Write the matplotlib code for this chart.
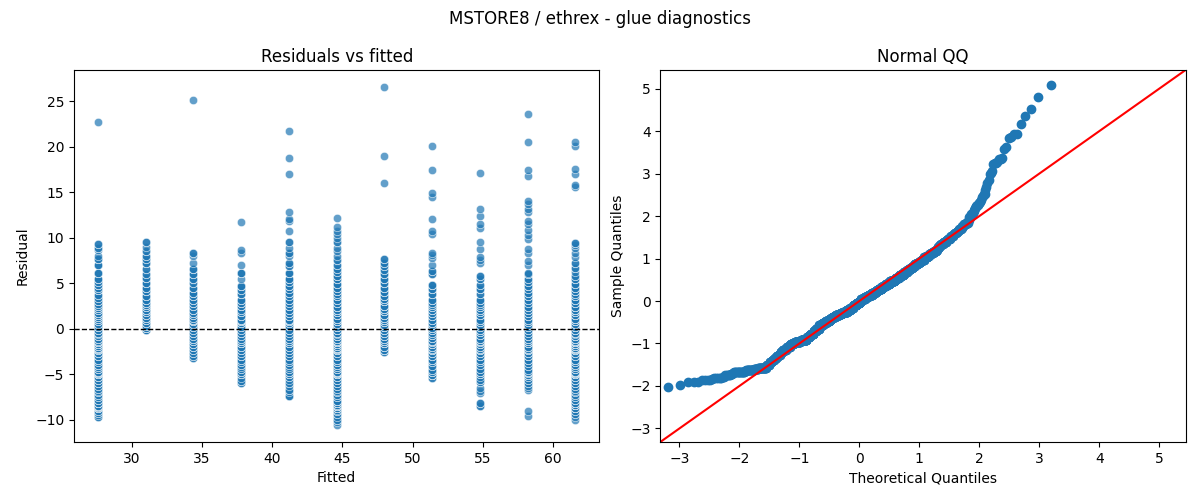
import numpy as np
import matplotlib
matplotlib.use("Agg")
import matplotlib.pyplot as plt
import seaborn as sns
from statistics import NormalDist

# Fitted levels (one column of residuals per level)
fitted_levels = [27.6, 31.0, 34.4, 37.8, 41.2, 44.6, 48.0, 51.4, 54.8, 58.2, 61.6]

# Residuals per fitted level as (value, count) pairs
res_27_6 = [(-9.7, 2), (-9.5, 1), (-9.3, 2), (-9.0, 2), (-8.7, 4), (-8.6, 2), (-8.5, 6), (-8.2, 6),
            (-7.8, 3), (-7.5, 2), (-7.3, 2), (-7.0, 2), (-6.8, 1), (-6.6, 2), (-6.3, 2), (-6.0, 3),
            (-5.6, 3), (-5.3, 3), (-5.0, 5), (-4.9, 2), (-4.8, 5), (-4.4, 3), (-4.2, 2), (-4.0, 3),
            (-3.7, 2), (-3.4, 3), (-3.0, 3), (-2.7, 3), (-2.4, 3), (-2.2, 2), (-2.1, 3), (-1.9, 3),
            (-1.7, 5), (-1.5, 5), (-1.4, 2), (-1.1, 3), (-0.8, 3), (-0.6, 1), (-0.5, 3), (-0.2, 3),
            (0.2, 3), (0.55, 3), (0.8, 3), (1.1, 3), (1.25, 3), (1.5, 4), (1.7, 4), (2.0, 3),
            (2.3, 3), (2.5, 3), (2.7, 2), (3.0, 3), (3.4, 2), (3.7, 2), (4.2, 3), (4.5, 2),
            (4.8, 3), (5.1, 2), (5.4, 3), (6.06, 3), (7.0, 3), (7.6, 3), (8.0, 1), (8.6, 1),
            (8.9, 2), (9.26, 2), (22.7, 1)]
res_31_0 = [(-0.2, 2), (-0.1, 2), (0.1, 3), (0.3, 3), (0.6, 3), (1.0, 3), (1.2, 3), (1.5, 3),
            (1.8, 3), (2.1, 3), (2.4, 3), (2.55, 3), (2.8, 3), (3.2, 3), (3.6, 3), (4.1, 3),
            (4.5, 3), (5.0, 3), (5.6, 3), (6.0, 2), (6.5, 2), (7.2, 3), (7.6, 2), (8.0, 2),
            (8.5, 2), (9.0, 1), (9.5, 2)]
res_34_4 = [(-3.2, 2), (-3.0, 2), (-2.7, 2), (-2.4, 2), (-2.0, 3), (-1.7, 3), (-1.4, 3), (-1.1, 3),
            (-0.8, 2), (-0.5, 3), (-0.2, 2), (0.2, 3), (0.5, 3), (0.8, 3), (1.0, 3), (1.2, 2),
            (1.5, 3), (1.7, 3), (2.1, 3), (2.5, 3), (2.8, 3), (3.2, 3), (3.6, 3), (3.9, 3),
            (4.5, 3), (5.0, 2), (5.5, 3), (5.95, 3), (6.6, 3), (7.2, 1), (8.0, 1), (8.26, 2),
            (25.1, 1)]
res_37_8 = [(-6.0, 2), (-5.8, 2), (-5.4, 1), (-5.0, 3), (-4.8, 3), (-4.4, 2), (-4.2, 1), (-4.0, 2),
            (-3.7, 2), (-3.4, 2), (-3.0, 3), (-2.7, 2), (-2.4, 3), (-2.0, 3), (-1.6, 4), (-1.4, 3),
            (-1.1, 2), (-0.8, 2), (-0.5, 3), (-0.2, 2), (0.2, 3), (0.6, 3), (0.8, 3), (1.0, 3),
            (1.4, 3), (1.8, 3), (2.1, 2), (2.5, 3), (2.8, 3), (3.2, 3), (3.75, 3), (4.2, 2),
            (4.7, 3), (5.5, 1), (6.13, 3), (7.0, 1), (8.34, 1), (8.63, 1), (11.68, 1)]
res_41_2 = [(-7.4, 3), (-7.0, 1), (-6.7, 2), (-6.3, 1), (-6.0, 2), (-5.6, 1), (-5.3, 2), (-5.0, 4),
            (-4.8, 3), (-4.4, 2), (-4.2, 1), (-4.0, 2), (-3.7, 2), (-3.4, 2), (-3.0, 3), (-2.7, 2),
            (-2.4, 3), (-2.0, 3), (-1.6, 4), (-1.4, 3), (-1.1, 3), (-0.8, 2), (-0.5, 2), (-0.2, 3),
            (0.3, 3), (0.6, 3), (0.8, 3), (1.0, 3), (1.4, 3), (1.7, 3), (2.1, 3), (2.5, 3),
            (2.8, 2), (3.2, 3), (3.6, 2), (3.95, 3), (4.3, 2), (4.7, 3), (5.1, 2), (5.4, 3),
            (6.1, 3), (6.87, 2), (7.24, 2), (7.97, 1), (8.34, 2), (8.9, 1), (9.55, 2), (10.7, 1),
            (11.8, 1), (12.0, 1), (12.82, 1), (16.97, 1), (18.7, 1), (21.7, 1)]
res_44_6 = [(-10.6, 1), (-10.3, 1), (-10.0, 2), (-9.7, 1), (-9.4, 2), (-9.1, 2), (-8.9, 1), (-8.7, 5),
            (-8.5, 6), (-8.4, 2), (-8.2, 6), (-8.0, 1), (-7.9, 3), (-7.5, 2), (-7.3, 2), (-7.0, 2),
            (-6.8, 1), (-6.6, 2), (-6.3, 2), (-6.0, 3), (-5.6, 3), (-5.3, 3), (-5.0, 6), (-4.9, 2),
            (-4.8, 6), (-4.4, 3), (-4.2, 2), (-4.0, 3), (-3.7, 3), (-3.4, 3), (-3.0, 3), (-2.7, 3),
            (-2.4, 4), (-2.2, 2), (-2.1, 4), (-1.9, 3), (-1.7, 6), (-1.5, 6), (-1.4, 3), (-1.1, 4),
            (-0.8, 4), (-0.6, 1), (-0.5, 4), (-0.2, 4), (0.2, 4), (0.5, 4), (0.8, 4), (1.1, 4),
            (1.5, 4), (1.8, 4), (2.1, 4), (2.4, 4), (2.8, 3), (3.2, 3), (3.6, 3), (3.8, 2),
            (4.1, 3), (4.5, 3), (4.9, 3), (5.4, 3), (5.8, 3), (6.2, 2), (6.6, 2), (7.0, 2),
            (7.5, 2), (8.0, 1), (8.5, 1), (8.89, 1), (9.55, 2), (10.0, 1), (10.36, 1), (10.7, 1),
            (11.2, 1), (12.12, 1)]
res_48_0 = [(-2.6, 2), (-2.3, 3), (-2.0, 3), (-1.6, 4), (-1.4, 4), (-1.1, 3), (-0.8, 3), (-0.5, 3),
            (-0.1, 3), (0.2, 4), (0.45, 4), (0.7, 3), (1.0, 4), (1.2, 3), (1.5, 4), (1.9, 4),
            (2.2, 3), (2.5, 4), (3.0, 4), (3.3, 3), (3.6, 3), (4.0, 3), (4.5, 3), (5.0, 3),
            (5.4, 3), (5.95, 3), (6.43, 2), (6.87, 2), (7.24, 2), (7.6, 2), (15.98, 1), (18.95, 1),
            (26.56, 1)]
res_51_4 = [(-5.4, 2), (-5.1, 4), (-4.8, 3), (-4.5, 2), (-4.1, 2), (-3.7, 2), (-3.4, 3), (-3.0, 3),
            (-2.7, 3), (-2.4, 3), (-2.2, 2), (-2.0, 3), (-1.7, 4), (-1.5, 2), (-1.4, 4), (-1.0, 3),
            (-0.7, 3), (-0.5, 2), (-0.2, 3), (0.1, 3), (0.4, 3), (0.6, 3), (1.0, 3), (1.4, 3),
            (1.7, 3), (2.1, 3), (2.4, 3), (2.55, 2), (2.8, 2), (3.2, 3), (3.75, 3), (4.3, 3),
            (4.75, 3), (5.95, 2), (6.32, 2), (7.0, 1), (7.79, 1), (8.04, 1), (8.34, 1), (10.36, 1),
            (10.73, 1), (12.0, 1), (14.47, 1), (14.9, 1), (17.4, 1), (20.06, 1)]
res_54_8 = [(-8.5, 2), (-8.2, 2), (-7.1, 1), (-6.8, 1), (-6.5, 1), (-5.9, 2), (-5.6, 2), (-5.3, 1),
            (-5.0, 3), (-4.8, 3), (-4.4, 2), (-4.0, 2), (-3.7, 2), (-3.4, 3), (-3.0, 3), (-2.7, 3),
            (-2.4, 3), (-2.2, 2), (-2.0, 3), (-1.7, 4), (-1.5, 2), (-1.4, 4), (-1.1, 3), (-0.7, 3),
            (-0.4, 3), (-0.1, 3), (0.2, 3), (0.45, 3), (0.7, 3), (1.0, 3), (1.5, 3), (1.8, 3),
            (2.1, 3), (2.4, 3), (2.55, 2), (2.8, 2), (3.2, 3), (3.75, 2), (4.3, 3), (4.8, 2),
            (5.5, 2), (5.77, 2), (7.16, 1), (7.5, 1), (7.9, 1), (8.78, 1), (9.51, 1), (11.09, 1),
            (11.46, 1), (12.38, 1), (13.11, 1), (17.08, 1)]
res_58_2 = [(-9.6, 1), (-9.1, 1), (-6.7, 1), (-6.5, 1), (-6.3, 1), (-6.0, 2), (-5.6, 2), (-5.3, 2),
            (-5.1, 4), (-4.9, 2), (-4.8, 4), (-4.5, 2), (-4.1, 2), (-3.8, 2), (-3.4, 3), (-3.0, 3),
            (-2.7, 3), (-2.4, 3), (-2.2, 2), (-2.0, 3), (-1.6, 4), (-1.4, 4), (-1.1, 3), (-0.8, 3),
            (-0.5, 2), (-0.1, 3), (0.2, 3), (0.45, 3), (0.7, 3), (1.0, 3), (1.4, 3), (1.7, 3),
            (2.1, 3), (2.4, 3), (2.8, 2), (3.2, 3), (3.6, 3), (3.95, 3), (4.3, 2), (4.7, 3),
            (5.1, 2), (5.4, 2), (5.95, 2), (6.13, 1), (6.98, 1), (7.42, 1), (8.27, 1), (8.71, 1),
            (9.88, 1), (10.3, 1), (10.8, 1), (11.53, 1), (11.83, 1), (12.86, 1), (13.11, 1),
            (13.66, 1), (14.03, 1), (16.79, 1), (17.45, 1), (20.5, 1), (23.58, 1)]
res_61_6 = [(-10.0, 1), (-9.7, 1), (-9.4, 2), (-9.1, 2), (-8.7, 5), (-8.4, 7), (-8.2, 6), (-7.8, 3),
            (-7.5, 2), (-7.3, 2), (-7.0, 2), (-6.8, 1), (-6.6, 2), (-6.3, 2), (-6.0, 3), (-5.6, 3),
            (-5.3, 3), (-5.0, 6), (-4.9, 2), (-4.8, 6), (-4.4, 3), (-4.2, 2), (-4.0, 3), (-3.7, 3),
            (-3.4, 3), (-3.0, 3), (-2.7, 3), (-2.4, 4), (-2.2, 2), (-2.1, 4), (-1.9, 3), (-1.7, 6),
            (-1.5, 6), (-1.4, 3), (-1.1, 4), (-0.8, 4), (-0.6, 1), (-0.5, 4), (-0.2, 4), (0.2, 4),
            (0.5, 4), (0.8, 4), (1.1, 4), (1.5, 4), (1.8, 4), (2.1, 4), (2.4, 4), (2.8, 3),
            (3.2, 3), (3.6, 3), (3.8, 2), (4.1, 3), (4.5, 3), (4.9, 3), (5.4, 3), (5.8, 2),
            (6.2, 1), (6.7, 2), (7.2, 2), (7.9, 1), (8.34, 1), (8.89, 1), (9.2, 1), (9.44, 2),
            (15.61, 1), (15.76, 1), (16.97, 1), (17.59, 1), (20.09, 1), (20.53, 1)]

residual_groups = [res_27_6, res_31_0, res_34_4, res_37_8, res_41_2, res_44_6,
                   res_48_0, res_51_4, res_54_8, res_58_2, res_61_6]

fitted_all, resid_all = [], []
for fv, grp in zip(fitted_levels, residual_groups):
    for v, c in grp:
        fitted_all.extend([fv] * c)
        resid_all.extend([v] * c)
fitted_all = np.array(fitted_all)
resid_all = np.array(resid_all)

fig, (ax1, ax2) = plt.subplots(1, 2, figsize=(12, 5), dpi=100)
fig.subplots_adjust(left=0.0617, right=0.988, top=0.86, bottom=0.116, wspace=0.116)
fig.suptitle("MSTORE8 / ethrex - glue diagnostics", fontsize=12)

sns.scatterplot(x=fitted_all, y=resid_all, alpha=0.7, ax=ax1)
ax1.axhline(0, color="black", linestyle="--", linewidth=1)
ax1.set_title("Residuals vs fitted")
ax1.set_xlabel("Fitted")
ax1.set_ylabel("Residual")

# Normal QQ (standardised residuals against normal quantiles)
n = len(resid_all)
sample_q = np.sort(resid_all / np.sqrt(np.mean(resid_all ** 2)))
nd = NormalDist()
theo_q = np.array([nd.inv_cdf(i / (n + 1)) for i in range(1, n + 1)])
ax2.plot(theo_q, sample_q, "o", color="#1f77b4", markersize=6, linestyle="none")
lims = [-3.32, 5.44]
ax2.plot(lims, lims, "r-")
ax2.set_xlim(lims)
ax2.set_ylim(lims)
ax2.set_title("Normal QQ")
ax2.set_xlabel("Theoretical Quantiles")
ax2.set_ylabel("Sample Quantiles")

fig.savefig("out.png", dpi=100)
